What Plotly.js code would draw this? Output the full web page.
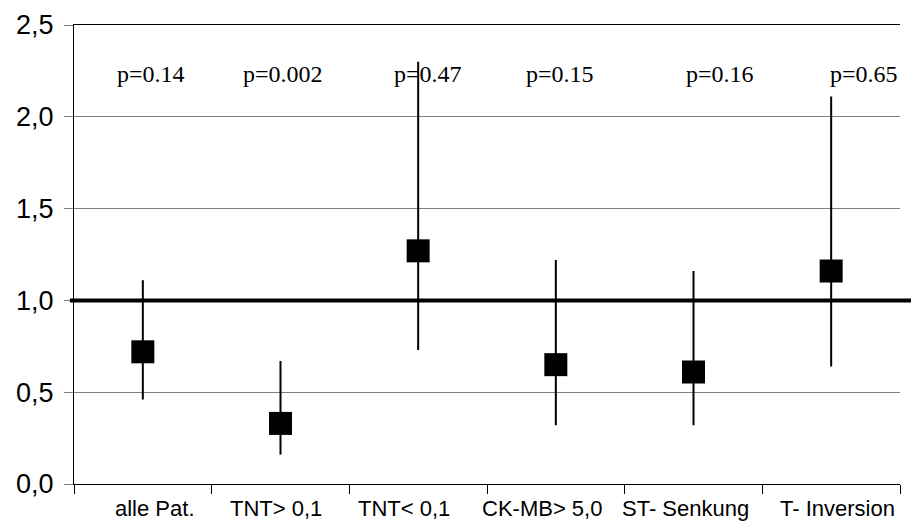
<!DOCTYPE html>
<html><head><meta charset="utf-8">
<script src="https://cdn.plot.ly/plotly-3.0.1.min.js"></script>
<style>html,body{margin:0;padding:0;background:#fff}#chart{width:911px;height:522px}</style>
</head><body><div id="chart"></div>
<script>
const categories = ["alle Pat.", "TNT> 0,1", "TNT< 0,1", "CK-MB> 5,0", "ST- Senkung", "T- Inversion"];
const estimate = [0.72, 0.33, 1.27, 0.65, 0.61, 1.16];
const ciLower = [0.46, 0.16, 0.73, 0.32, 0.32, 0.64];
const ciUpper = [1.11, 0.67, 2.30, 1.22, 1.16, 2.11];
const pValues = ["p=0.14", "p=0.002", "p=0.47", "p=0.15", "p=0.16", "p=0.65"];
const yTicks = [0, 0.5, 1.0, 1.5, 2.0, 2.5];
const referenceValue = 1.0;

// layout-only pixel nudges for the text labels
const labelShift = [12, -5, -14, -14, -8, 6];
const pShift = [8, 2, 10, 4, 26, 33];

const idx = categories.map((_, i) => i);
const bounds = idx.concat([categories.length]).map(i => i - 0.5);
const sans = "Liberation Sans, Arial, sans-serif";
const serif = "Liberation Serif, Times New Roman, serif";

const trace = {
  type: "scatter", mode: "markers",
  x: idx, y: estimate,
  marker: {symbol: "square", size: 23, color: "#000"},
  error_y: {
    type: "data", symmetric: false,
    array: ciUpper.map((u, i) => u - estimate[i]),
    arrayminus: ciLower.map((l, i) => estimate[i] - l),
    width: 0, thickness: 2, color: "#000"
  },
  hoverinfo: "x+y", showlegend: false
};

const annotations = [];
categories.forEach((c, i) => annotations.push({
  text: c, x: i, xref: "x", y: 0, yref: "paper", yanchor: "top", xanchor: "center",
  xshift: labelShift[i], yshift: -10, showarrow: false,
  font: {family: sans, size: 22, color: "#000"}
}));
pValues.forEach((p, i) => annotations.push({
  text: p, x: i, xref: "x", y: 2.235, yref: "y", yanchor: "middle", xanchor: "center",
  xshift: pShift[i], showarrow: false,
  font: {family: serif, size: 24, color: "#000"}
}));

const layout = {
  width: 911, height: 522,
  margin: {l: 74, r: 11, t: 25, b: 38},
  paper_bgcolor: "#fff", plot_bgcolor: "#fff",
  separators: ",.",
  font: {family: sans, color: "#000"},
  showlegend: false,
  xaxis: {
    range: [-0.5, categories.length - 0.5], tickmode: "array", tickvals: bounds,
    ticks: "outside", ticklen: 9, tickwidth: 1, tickcolor: "#000",
    showticklabels: false, showgrid: false, zeroline: false,
    showline: true, linecolor: "#000", linewidth: 1, mirror: true
  },
  xaxis2: {
    overlaying: "x", anchor: "y", matches: "x",
    range: [-0.5, categories.length - 0.5], tickmode: "array", tickvals: bounds,
    ticks: "inside", ticklen: 9, tickwidth: 1, tickcolor: "#000",
    showticklabels: false, showgrid: false, zeroline: false, showline: false
  },
  yaxis: {
    range: [0, 2.5], tickmode: "array", tickvals: yTicks, tickformat: ".1f",
    ticks: "outside", ticklen: 9, tickwidth: 1, tickcolor: "#808080",
    ticklabelstandoff: 5,
    tickfont: {family: sans, size: 27, color: "#000"},
    showgrid: true, gridcolor: "#808080", gridwidth: 1, zeroline: false,
    showline: true, linecolor: "#000", linewidth: 1
  },
  yaxis2: {
    overlaying: "y", anchor: "x", side: "left",
    range: [0, 2.5], tickmode: "array", tickvals: yTicks,
    ticks: "inside", ticklen: 10, tickwidth: 1, tickcolor: "#000",
    showticklabels: false, showgrid: false, zeroline: false, showline: false
  },
  yaxis3: {
    overlaying: "y", anchor: "x", side: "right",
    range: [0, 2.5], showticklabels: false, ticks: "",
    showgrid: false, zeroline: false, showline: true, linecolor: "#808080", linewidth: 1
  },
  shapes: [{
    type: "line", xref: "paper", x0: -0.005, x1: 1.02, yref: "y",
    y0: referenceValue, y1: referenceValue, line: {color: "#000", width: 4}, layer: "above"
  }],
  annotations: annotations
};

Plotly.newPlot("chart", [trace], layout, {displayModeBar: false, staticPlot: true});
</script></body></html>
